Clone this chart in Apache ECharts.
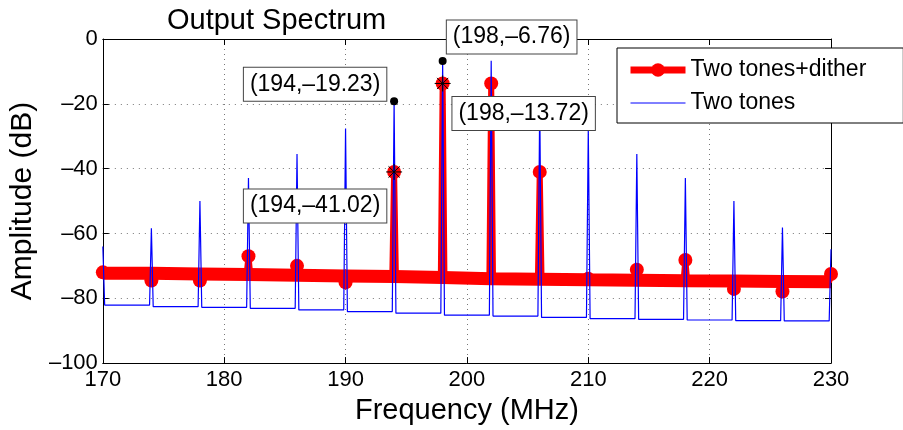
<!DOCTYPE html>
<html>
<head>
<meta charset="utf-8">
<script src="https://cdn.jsdelivr.net/npm/echarts@6/dist/echarts.min.js"></script>
<style>
  html, body { margin: 0; padding: 0; background: #fff; }
  #chart { width: 903px; height: 430px; }
</style>
</head>
<body>
<div id="chart"></div>
<script>
// 频谱：双音 + 抖动 vs 双音
const freqs = [170, 174, 178, 182, 186, 190, 194, 198, 202, 206, 210, 214, 218, 222, 226, 230];

// Two tones+dither: value at each tone / spur, and floor level of each 4 MHz segment
const ditherPeak = [-72.0, -74.5, -74.5, -67.0, -70.0, -75.1, -41.02, -13.72, -13.7, -41.0, -74.0, -71.2, -68.2, -77.1, -77.9, -72.5];
const ditherFloor = [-72.3, -72.5, -72.7, -72.9, -73.1, -73.3, -73.6, -74.0, -74.1, -74.3, -74.4, -74.6, -74.7, -74.8, -74.9];

// Two tones
const tonePeak = [-64.0, -58.4, -50.0, -42.9, -35.5, -27.6, -19.23, -6.76, -6.7, -19.3, -27.7, -35.5, -42.9, -50.0, -58.2, -64.9];
const toneFloor = [-82.1, -82.6, -82.8, -83.1, -83.6, -84.1, -84.6, -85.2, -85.5, -85.9, -86.3, -86.5, -86.7, -86.9, -87.0];

// data tips
const tipTone = [[194, -19.23], [198, -6.76]];
const tipDither = [[194, -41.02], [198, -13.72]];

const xTicks = { min: 170, max: 230, step: 10 };
const yTicks = { min: -100, max: 0, step: 20 };

const FONT = '"Liberation Sans", Arial, Helvetica, sans-serif';
const SPIKE_W = 0.15;

// floor -> spike -> floor
function spikeLine(peaks, floors, markPeak) {
  const pts = [];
  freqs.forEach((f, i) => {
    if (i > 0) pts.push({ value: [f - SPIKE_W, floors[i - 1]], symbol: 'none' });
    const p = { value: [f, peaks[i]] };
    if (!markPeak) p.symbol = 'none';
    pts.push(p);
    if (i < floors.length) pts.push({ value: [f + SPIKE_W, floors[i]], symbol: 'none' });
  });
  return pts;
}

function floorBand(floors) {
  const pts = [];
  floors.forEach((v, i) => {
    pts.push([freqs[i], v]);
    pts.push([freqs[i + 1], v]);
  });
  return pts;
}

const minus = (v) => (v < 0 ? '\u2013' + -v : String(v));
const tipText = (p) => '(' + p.value[0] + ',' + minus(p.value[1]) + ')';

const tipLabel = {
  show: true,
  position: 'inside',
  formatter: tipText,
  fontFamily: FONT,
  fontSize: 23,
  lineHeight: 26,
  color: '#000',
  backgroundColor: '#fff',
  borderColor: '#444',
  borderWidth: 1,
  padding: [4, 6, 3, 6]
};

const chart = echarts.init(document.getElementById('chart'));

const option = {
  animation: false,
  title: {
    text: 'Output Spectrum',
    left: 167,
    top: 6,
    padding: 0,
    textStyle: { fontFamily: FONT, fontSize: 29, fontWeight: 'normal', color: '#000' }
  },
  legend: {
    data: [
      { name: 'Two tones+dither', lineStyle: { width: 7 } },
      { name: 'Two tones', lineStyle: { width: 1 }, itemStyle: { opacity: 0 } }
    ],
    orient: 'vertical',
    left: 617,
    top: 48,
    padding: [9, 37, 7, 10],
    itemGap: 7,
    itemWidth: 55,
    itemHeight: 17,
    backgroundColor: '#fff',
    borderColor: '#000',
    borderWidth: 1,
    textStyle: { fontFamily: FONT, fontSize: 23, lineHeight: 26, color: '#000' }
  },
  grid: { left: 101, right: 72, top: 39, bottom: 61 },
  xAxis: [
    {
      type: 'value',
      min: xTicks.min,
      max: xTicks.max,
      interval: xTicks.step,
      name: 'Frequency (MHz)',
      nameLocation: 'middle',
      nameGap: 28,
      nameTextStyle: { fontFamily: FONT, fontSize: 29, color: '#000' },
      axisLine: { show: true, onZero: false, lineStyle: { color: '#000', width: 1 } },
      axisTick: { inside: true, length: 6, lineStyle: { color: '#000' } },
      axisLabel: { margin: 6, fontFamily: FONT, fontSize: 22, color: '#000' },
      splitLine: { show: true, lineStyle: { color: '#777', type: [1, 4], width: 1 } }
    },
    {
      type: 'value',
      position: 'top',
      min: xTicks.min,
      max: xTicks.max,
      interval: xTicks.step,
      axisLine: { show: true, onZero: false, lineStyle: { color: '#000', width: 1 } },
      axisTick: { inside: true, length: 6, lineStyle: { color: '#000' } },
      axisLabel: { show: false },
      splitLine: { show: false }
    }
  ],
  yAxis: [
    {
      type: 'value',
      min: yTicks.min,
      max: yTicks.max,
      interval: yTicks.step,
      name: 'Amplitude (dB)',
      nameLocation: 'middle',
      nameGap: 60,
      nameTextStyle: { fontFamily: FONT, fontSize: 30, color: '#000' },
      axisLine: { show: true, onZero: false, lineStyle: { color: '#000', width: 1 } },
      axisTick: { inside: true, length: 6, lineStyle: { color: '#000' } },
      axisLabel: { margin: 5, fontFamily: FONT, fontSize: 22, color: '#000', formatter: minus },
      splitLine: { show: true, lineStyle: { color: '#777', type: [1, 5], width: 1 } }
    },
    {
      type: 'value',
      position: 'right',
      min: yTicks.min,
      max: yTicks.max,
      interval: yTicks.step,
      axisLine: { show: true, onZero: false, lineStyle: { color: '#000', width: 1 } },
      axisTick: { inside: true, length: 6, lineStyle: { color: '#000' } },
      axisLabel: { show: false },
      splitLine: { show: false }
    }
  ],
  series: [
    {
      name: 'dither floor',
      type: 'line',
      data: floorBand(ditherFloor),
      symbol: 'none',
      lineStyle: { color: '#ff0000', width: 13 },
      silent: true,
      z: 2
    },
    {
      name: 'Two tones+dither',
      type: 'line',
      data: spikeLine(ditherPeak, ditherFloor, true),
      symbol: 'circle',
      symbolSize: 14,
      showSymbol: true,
      showAllSymbol: true,
      itemStyle: { color: '#ff0000' },
      lineStyle: { color: '#ff0000', width: 6 },
      z: 3
    },
    {
      name: 'Two tones',
      type: 'line',
      data: spikeLine(tonePeak, toneFloor, false),
      symbol: 'none',
      itemStyle: { color: '#0000ff' },
      lineStyle: { color: '#0000ff', width: 1.2 },
      z: 4
    },
    {
      name: 'tip tone',
      type: 'scatter',
      data: [
        { value: tipTone[0], label: { offset: [-79, -17] } },
        { value: tipTone[1], label: { offset: [69, -24] } }
      ],
      symbol: 'circle',
      symbolSize: 8,
      itemStyle: { color: '#000', opacity: 1 },
      label: tipLabel,
      z: 10
    },
    {
      name: 'tip dither',
      type: 'scatter',
      data: [
        { value: tipDither[0], label: { offset: [-79, 34] } },
        { value: tipDither[1], label: { offset: [81, 30] } }
      ],
      symbol: 'path://M0,5L10,5M5,0L5,10M1.5,1.5L8.5,8.5M8.5,1.5L1.5,8.5',
      symbolSize: 16,
      itemStyle: { color: 'none', borderColor: '#000', borderWidth: 1, opacity: 1 },
      label: tipLabel,
      z: 10
    }
  ]
};

chart.setOption(option);
window.addEventListener('resize', () => chart.resize());
</script>
</body>
</html>
